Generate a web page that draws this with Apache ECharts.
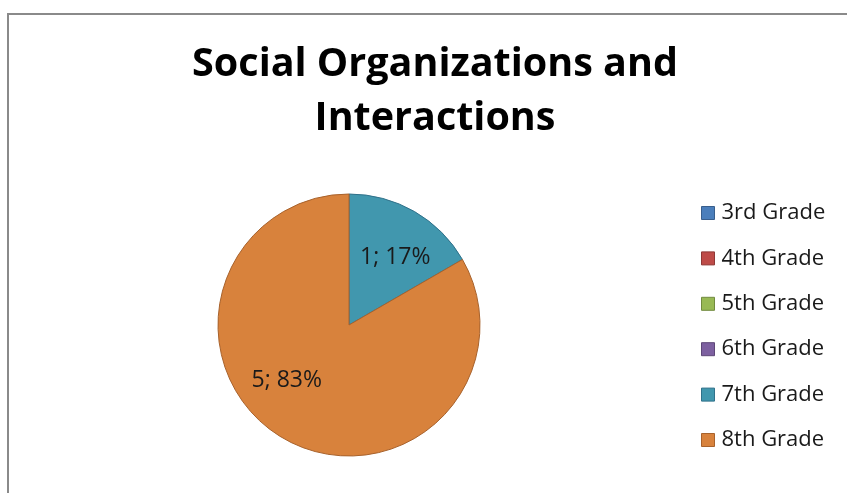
<!DOCTYPE html>
<html>
<head>
<meta charset="utf-8">
<script src="https://cdn.jsdelivr.net/npm/echarts@6/dist/echarts.min.js"></script>
<style>
  html, body { margin: 0; padding: 0; background: #fff; }
  #chart { width: 847px; height: 493px; }
</style>
</head>
<body>
<div id="chart"></div>
<script>
// Survey responses by grade level
const grades = ['3rd Grade', '4th Grade', '5th Grade', '6th Grade', '7th Grade', '8th Grade'];
const counts = [0, 0, 0, 0, 1, 5];
const gradeColors = ['#4A7EBB', '#BE4B48', '#98B954', '#7D60A0', '#4197AE', '#D8823C'];
const gradeBorders = ['#385E8C', '#8E3836', '#718A3F', '#5D4777', '#30718A', '#A8622C'];

// fine placement of the in-slice labels
const labelOffsets = [[0, 0], [0, 0], [0, 0], [0, 0], [12, -8], [-28, -4]];

const total = counts.reduce((a, b) => a + b, 0);

const chart = echarts.init(document.getElementById('chart'), null, { renderer: 'canvas' });

const data = grades.map((g, i) => ({
  name: g,
  value: counts[i],
  itemStyle: {
    color: gradeColors[i],
    borderColor: gradeBorders[i],
    borderWidth: counts[i] > 0 ? 1 : 0
  },
  label: { offset: labelOffsets[i] }
}));

chart.setOption({
  animation: false,
  backgroundColor: '#fff',
  graphic: [{
    type: 'rect',
    shape: { x: 8, y: 14, width: 900, height: 600 },
    style: { fill: 'none', stroke: '#8a8a8a', lineWidth: 2 },
    silent: true
  }],
  title: {
    text: 'Social Organizations and\nInteractions',
    left: 430,
    top: 33,
    textAlign: 'center',
    textStyle: {
      fontFamily: 'Open Sans',
      fontWeight: 'bold',
      fontSize: 39.5,
      lineHeight: 54,
      color: '#000'
    }
  },
  legend: {
    orient: 'vertical',
    left: 696,
    top: 197,
    itemWidth: 13,
    itemHeight: 13,
    itemGap: 23.4,
    icon: 'rect',
    data: grades.map((g, i) => ({
      name: g,
      itemStyle: { color: gradeColors[i], borderColor: gradeBorders[i], borderWidth: 1 }
    })),
    textStyle: {
      fontFamily: 'Open Sans',
      fontSize: 22,
      lineHeight: 22,
      color: '#1a1a1a',
      padding: [0, 0, 0, 2]
    }
  },
  series: [{
    type: 'pie',
    center: [349, 325],
    radius: 131,
    startAngle: 90,
    clockwise: true,
    minAngle: 0,
    avoidLabelOverlap: false,
    label: {
      show: true,
      position: 'inside',
      fontFamily: 'Open Sans',
      fontSize: 23,
      color: '#1a1a1a',
      formatter: p => p.value > 0 ? p.value + '; ' + Math.round(p.value / total * 100) + '%' : ''
    },
    labelLine: { show: false },
    emphasis: { disabled: true },
    data: data
  }]
});
</script>
</body>
</html>
